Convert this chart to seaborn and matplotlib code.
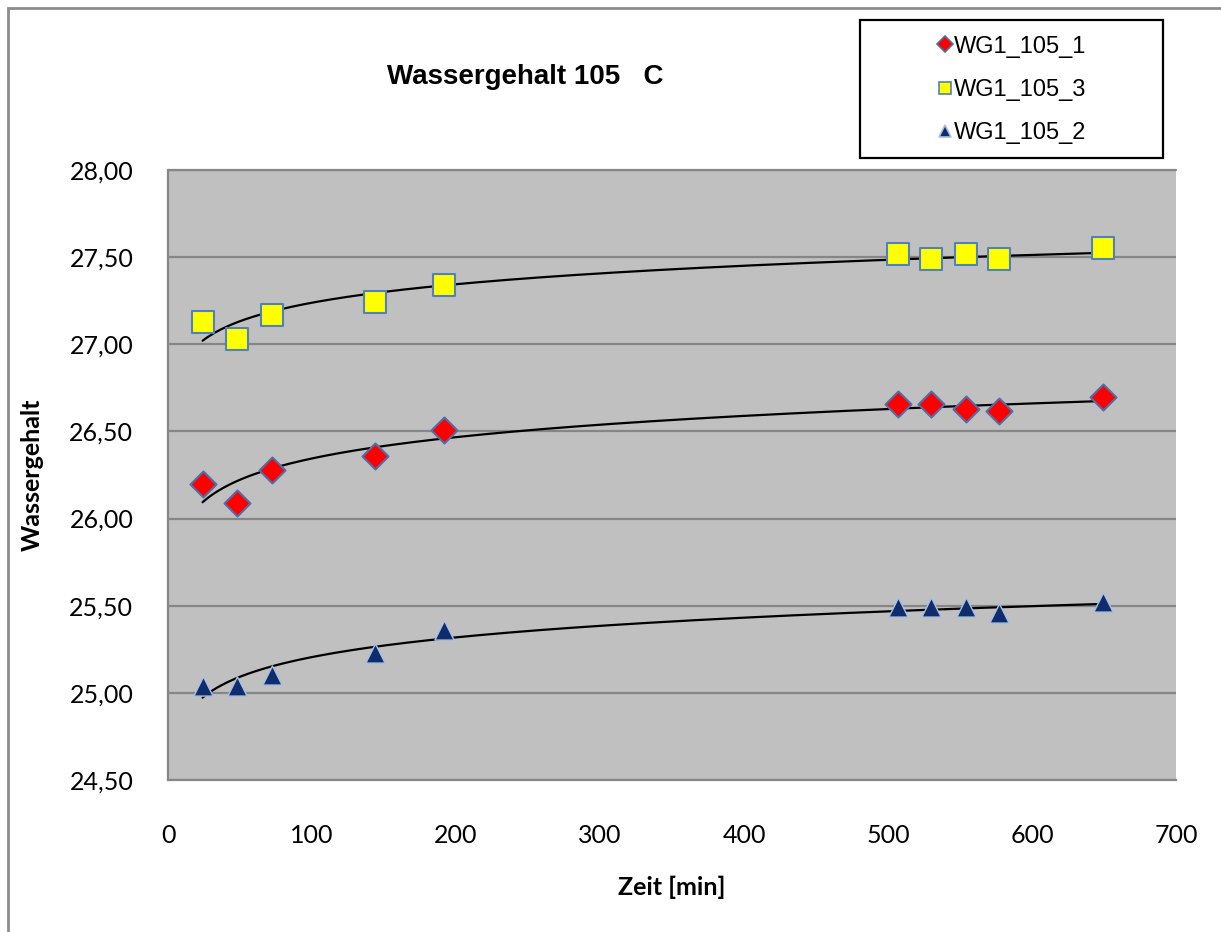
import numpy as np
import pandas as pd
import matplotlib
matplotlib.use('Agg')
import matplotlib.pyplot as plt
import seaborn as sns
from matplotlib.patches import Rectangle
from matplotlib.ticker import FuncFormatter, MultipleLocator

zeit = [24, 48, 72, 144, 192, 507, 530, 554, 577, 649]
wg1 = [26.20, 26.09, 26.28, 26.36, 26.51, 26.66, 26.66, 26.63, 26.62, 26.70]
wg3 = [27.13, 27.03, 27.17, 27.24, 27.34, 27.52, 27.49, 27.52, 27.49, 27.55]
wg2 = [25.04, 25.04, 25.10, 25.23, 25.36, 25.49, 25.49, 25.49, 25.46, 25.52]

labels = ['WG1_105_1', 'WG1_105_3', 'WG1_105_2']
series = [wg1, wg3, wg2]
styles = [
    dict(marker='D', color='#FF0000', edgecolor='#4F6FA8', s=175, linewidth=1.5),
    dict(marker='s', color='#FFFF00', edgecolor='#4F81BD', s=270, linewidth=1.5),
    dict(marker='^', color='#0F2C6E', edgecolor='#A8C0E0', s=190, linewidth=1.0),
]

sns.set_style('white')
plt.rcParams['font.family'] = ['Lato', 'DejaVu Sans']
plt.rcParams['text.color'] = 'black'
plt.rcParams['axes.labelcolor'] = 'black'
plt.rcParams['xtick.color'] = 'black'
plt.rcParams['ytick.color'] = 'black'

fig = plt.figure(figsize=(12.21, 9.32), dpi=100)
ax = fig.add_axes([168 / 1221, 1 - 780 / 932, (1176 - 168) / 1221, (780 - 170) / 932])
ax.set_facecolor('#C0C0C0')

handles = []
for lab, vals, st in zip(labels, series, styles):
    df = pd.DataFrame({'Zeit': zeit, 'Wert': vals})
    # logarithmische Trendlinie wie in Excel
    a, b = np.polyfit(np.log(df['Zeit']), df['Wert'], 1)
    xs = np.linspace(min(zeit), max(zeit), 300)
    sns.lineplot(x=xs, y=a * np.log(xs) + b, ax=ax, color='black', linewidth=1.6, zorder=3)
    sns.scatterplot(data=df, x='Zeit', y='Wert', ax=ax, zorder=4, **st)
    handles.append(plt.Line2D([], [], linestyle='none', marker=st['marker'],
                              markerfacecolor=st['color'], markeredgecolor=st['edgecolor'],
                              markersize=8.5, markeredgewidth=1.2))

ax.set_xlim(0, 700)
ax.set_ylim(24.5, 28.0)
ax.yaxis.set_major_locator(MultipleLocator(0.5))
ax.xaxis.set_major_locator(MultipleLocator(50))
ax.xaxis.set_major_formatter(FuncFormatter(lambda v, p: f'{int(v)}' if v % 100 == 0 else ''))
ax.yaxis.set_major_formatter(FuncFormatter(lambda v, p: f'{v:.2f}'.replace('.', ',')))
ax.grid(axis='y', color='#868686', linewidth=1.6)
ax.axhline(28.0, color='#868686', linewidth=1.6, clip_on=False, zorder=0.5)
ax.set_axisbelow(True)

for side in ['top', 'right']:
    ax.spines[side].set_visible(False)
for side in ['left', 'bottom']:
    ax.spines[side].set_color('#868686')
    ax.spines[side].set_linewidth(1.6)

ax.tick_params(axis='x', direction='out', length=7, width=1.6, color='#868686',
               labelsize=18, pad=25)
ax.tick_params(axis='y', length=0, labelsize=18, pad=25)

ax.set_xlabel('Zeit [min]', fontsize=18, fontweight='bold', labelpad=20)
ax.set_ylabel('Wassergehalt', fontsize=18, fontweight='bold', labelpad=18)

fig.text(525 / 1221, 1 - 77 / 932, 'Wassergehalt 105   C', fontsize=20, fontweight='bold',
         ha='center', va='center', family=['Liberation Sans', 'DejaVu Sans'])

# Legendenrahmen
fig.patches.append(Rectangle((860 / 1221, 1 - 158 / 932), 303 / 1221, 138 / 932,
                             transform=fig.transFigure, fill=False, edgecolor='black',
                             linewidth=1.6))
fig.legend(handles, labels, loc='center', bbox_to_anchor=(1012 / 1221, 1 - 90 / 932),
           frameon=False, prop={'family': ['Liberation Sans', 'DejaVu Sans'], 'size': 17},
           handlelength=0.6, handletextpad=0.1, labelspacing=0.9)

# äußerer Diagrammrahmen
fig.patches.append(Rectangle((8 / 1221, -0.1), 1.2, 1 - 8 / 932 + 0.1,
                             transform=fig.transFigure, fill=False, edgecolor='#8C8C8C',
                             linewidth=2))

fig.savefig('out.png', dpi=100)
